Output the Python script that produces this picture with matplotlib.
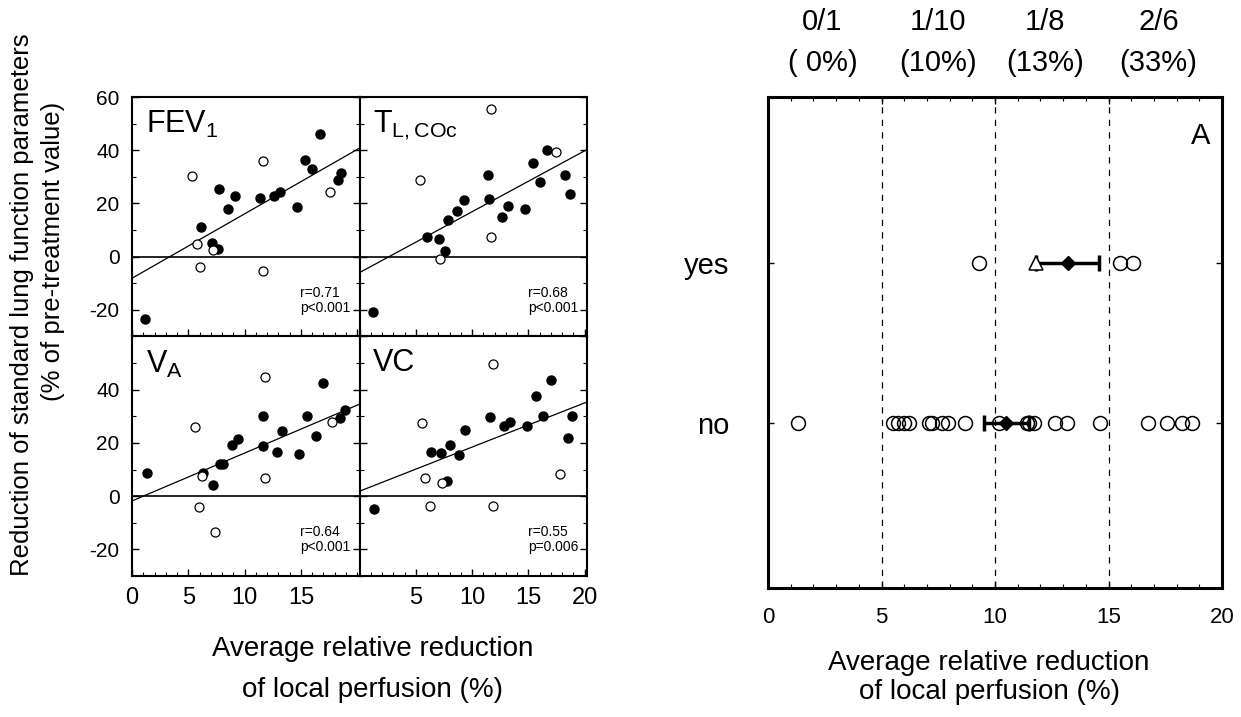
import numpy as np
import matplotlib.pyplot as plt
from matplotlib.ticker import MultipleLocator

plt.rcParams['font.family'] = ['Liberation Sans', 'DejaVu Sans']
plt.rcParams['mathtext.fontset'] = 'custom'
plt.rcParams['mathtext.rm'] = 'Liberation Sans'
plt.rcParams['axes.unicode_minus'] = False

# FEV1 panel
fev_fx = [16.7, 15.4, 16.0, 18.6, 18.25, 7.76, 9.18, 11.38, 12.62, 13.16, 8.56, 14.67, 6.13, 7.14, 7.62, 1.18]
fev_fy = [46.2, 36.5, 32.9, 31.6, 28.7, 25.6, 22.8, 21.9, 22.8, 24.3, 17.8, 18.8, 11.2, 5.0, 2.8, -23.5]
fev_ox = [5.33, 11.67, 17.6, 5.8, 7.17, 6.04, 11.67]
fev_oy = [30.2, 36.0, 24.4, 4.9, 2.6, -3.8, -5.5]
fev_fit = [-8.1, 2.42]
fev_txt = 'r=0.71\np<0.001'

# TL,COc panel
tl_fx = [16.68, 15.44, 18.22, 16.06, 11.41, 18.67, 11.5, 9.24, 8.65, 7.85, 13.18, 12.68, 14.67, 6.02, 7.05, 7.62, 1.21]
tl_fy = [40.0, 35.2, 30.6, 28.1, 30.8, 23.5, 21.8, 21.3, 17.1, 13.9, 19.1, 14.9, 17.8, 7.5, 6.8, 2.0, -20.7]
tl_ox = [11.64, 17.48, 5.33, 11.64, 7.17]
tl_oy = [55.6, 39.5, 28.8, 7.4, -1.0]
tl_fit = [-6.0, 2.29]
tl_txt = 'r=0.68\np<0.001'

# VA panel
va_fx = [16.95, 18.9, 18.5, 15.58, 11.61, 13.33, 16.3, 11.61, 12.83, 14.87, 9.42, 8.86, 7.82, 8.06, 6.31, 7.23, 1.36]
va_fy = [42.6, 32.2, 29.3, 30.0, 30.2, 24.4, 22.7, 18.7, 16.5, 16.0, 21.4, 19.1, 12.0, 12.2, 8.6, 4.0, 8.8]
va_ox = [11.85, 5.6, 17.78, 6.19, 11.79, 5.93, 7.41]
va_oy = [44.7, 25.9, 27.8, 7.4, 7.0, -4.1, -13.3]
va_fit = [-1.8, 1.80]
va_txt = 'r=0.64\np<0.001'

# VC panel
vc_fx = [16.98, 15.67, 16.3, 18.9, 18.5, 11.62, 12.86, 13.33, 14.87, 9.39, 8.03, 6.31, 7.23, 8.83, 7.73, 1.27]
vc_fy = [43.5, 37.7, 30.1, 30.2, 21.8, 29.6, 26.3, 27.8, 26.2, 25.0, 19.4, 16.7, 16.4, 15.4, 5.8, -5.0]
vc_ox = [11.82, 5.54, 17.8, 5.84, 7.32, 6.22, 11.82]
vc_oy = [49.8, 27.4, 8.4, 6.8, 5.0, -3.8, -3.8]
vc_fit = [1.85, 1.66]
vc_txt = 'r=0.55\np=0.006'

# right panel
yes_x = [9.3, 15.5, 16.1]
yes_tri = [11.8]
yes_mean, yes_err = 13.2, 1.4
no_x = [1.34, 5.49, 5.74, 5.99, 6.21, 7.11, 7.21, 7.65, 7.92, 8.68, 10.19, 11.39, 11.5,
        11.72, 12.64, 13.18, 14.63, 16.75, 17.56, 18.22, 18.69]
no_mean, no_err = 10.5, 1.0
bins_top = ['0/1\n( 0%)', '1/10\n(10%)', '1/8\n(13%)', '2/6\n(33%)']
bins_pos = [2.4, 7.5, 12.2, 17.2]

fig = plt.figure(figsize=(12.41, 7.17), dpi=100)
gs = fig.add_gridspec(2, 2, left=0.1064, right=0.473, top=0.8647, bottom=0.1967,
                      wspace=0, hspace=0)

panels = [
    (r'FEV$_1$', fev_fx, fev_fy, fev_ox, fev_oy, fev_fit, fev_txt),
    (r'T$_{\mathrm{L,COc}}$', tl_fx, tl_fy, tl_ox, tl_oy, tl_fit, tl_txt),
    (r'V$_{\mathrm{A}}$', va_fx, va_fy, va_ox, va_oy, va_fit, va_txt),
    ('VC', vc_fx, vc_fy, vc_ox, vc_oy, vc_fit, vc_txt),
]

for i, (name, fx, fy, ox, oy, fit, txt) in enumerate(panels):
    r, c = divmod(i, 2)
    ax = fig.add_subplot(gs[r, c])
    ax.set_xlim(0, 20.2)
    ax.set_ylim(-30, 60)
    ax.axhline(0, color='k', lw=1.2)
    xx = np.array([0, 20.2])
    ax.plot(xx, fit[0] + fit[1] * xx, color='k', lw=0.9)
    ax.plot(fx, fy, 'o', color='k', ms=6.5)
    ax.plot(ox, oy, 'o', mfc='white', mec='k', mew=0.9, ms=6.5)
    ax.text(0.06, 0.95, name, transform=ax.transAxes, fontsize=22, va='top', ha='left')
    ax.text(0.74, 0.09, txt, transform=ax.transAxes, fontsize=10, va='bottom', ha='left',
            linespacing=1.1)
    for s in ax.spines.values():
        s.set_linewidth(1.5)
    ax.yaxis.set_major_locator(MultipleLocator(20))
    ax.yaxis.set_minor_locator(MultipleLocator(10))
    ax.xaxis.set_major_locator(MultipleLocator(5))
    ax.xaxis.set_minor_locator(MultipleLocator(1))
    ax.tick_params(which='both', direction='in', left=True, right=True, top=False, bottom=True)
    ax.tick_params(which='major', length=5, width=1)
    ax.tick_params(which='minor', length=3, width=0.8)
    ax.tick_params(axis='y', labelsize=15, pad=9)
    ax.tick_params(axis='x', labelsize=17, pad=8)
    if r == 0:
        ax.set_xticklabels([])
        if c == 0:
            ax.set_yticks([-20, 0, 20, 40, 60])
    else:
        if c == 0:
            ax.set_xticks([0, 5, 10, 15])
            ax.set_yticks([-20, 0, 20, 40])
        else:
            ax.set_xticks([5, 10, 15, 20])
    if c == 1:
        ax.set_yticklabels([])

fig.text(0.018, 0.575, 'Reduction of standard lung function parameters', rotation=90,
         ha='center', va='center', fontsize=18.5)
fig.text(0.043, 0.65, '(% of pre-treatment value)', rotation=90,
         ha='center', va='center', fontsize=18.5)
fig.text(0.30, 0.095, 'Average relative reduction', ha='center', va='center', fontsize=20)
fig.text(0.30, 0.038, 'of local perfusion (%)', ha='center', va='center', fontsize=20)

# right panel
ax2 = fig.add_axes([0.6189, 0.1799, 0.9847 - 0.6189, 0.8647 - 0.1799])
ax2.set_xlim(0, 20)
ax2.set_ylim(-1.03, 2.04)
for v in [5, 10, 15]:
    ax2.axvline(v, color='k', lw=0.9, ls=(0, (5, 5)))
ax2.plot(no_x, np.zeros(len(no_x)), 'o', mfc='none', mec='k', mew=1.1, ms=10)
ax2.plot(yes_x, np.ones(len(yes_x)), 'o', mfc='none', mec='k', mew=1.1, ms=10)
ax2.errorbar([no_mean], [0], xerr=[no_err], fmt='D', color='k', ms=7, elinewidth=2.5,
             capsize=6, capthick=2.5, zorder=4)
ax2.errorbar([yes_mean], [1], xerr=[yes_err], fmt='D', color='k', ms=7, elinewidth=2.5,
             capsize=6, capthick=2.5, zorder=4)
ax2.plot(yes_tri, np.ones(len(yes_tri)), '^', mfc='white', mec='k', mew=1.1, ms=10, zorder=5)
ax2.set_yticks([0, 1])
ax2.set_yticklabels(['no', 'yes'])
ax2.xaxis.set_major_locator(MultipleLocator(5))
ax2.xaxis.set_minor_locator(MultipleLocator(1))
ax2.tick_params(which='both', direction='in', top=True, right=True)
ax2.tick_params(which='major', length=5, width=1)
ax2.tick_params(which='minor', length=3, width=0.8)
ax2.tick_params(axis='x', labelsize=16, pad=14)
ax2.tick_params(axis='y', labelsize=21, pad=28, length=4)
for s in ax2.spines.values():
    s.set_linewidth(2.2)
ax2.text(0.975, 0.95, 'A', transform=ax2.transAxes, fontsize=21, ha='right', va='top')
for lab, xp in zip(bins_top, bins_pos):
    ax2.text(xp, 1.04, lab, transform=ax2.get_xaxis_transform(), ha='center', va='bottom',
             fontsize=21, linespacing=1.6)
fig.text(0.797, 0.0753, 'Average relative reduction', ha='center', va='center', fontsize=20)
fig.text(0.797, 0.035, 'of local perfusion (%)', ha='center', va='center', fontsize=20)

fig.savefig('out.png', dpi=100)
